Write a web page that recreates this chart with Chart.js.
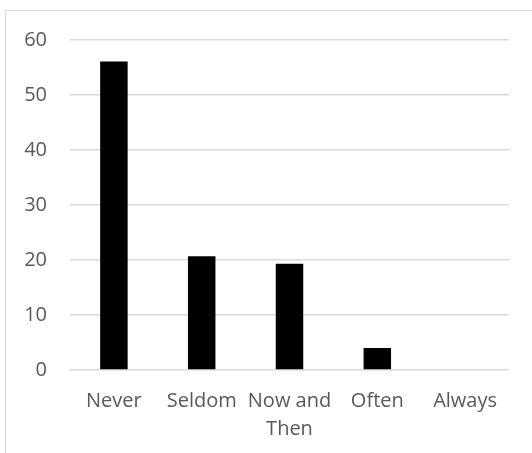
<!DOCTYPE html>
<html>
<head>
<meta charset="utf-8">
<script src="https://cdn.jsdelivr.net/npm/chart.js@4/dist/chart.umd.min.js"></script>
<style>
  html, body { margin: 0; padding: 0; background: #fff; }
  #wrap { position: relative; width: 532px; height: 453px; overflow: hidden; }
  #frame { position: absolute; left: 5px; top: 10px; width: 600px; height: 600px;
           border-left: 1.5px solid #d9d9d9; border-top: 1.5px solid #d9d9d9; box-sizing: border-box; }
  canvas { position: absolute; left: 0; top: 0; }
</style>
</head>
<body>
<div id="wrap">
  <div id="frame"></div>
  <canvas id="c" width="532" height="453"></canvas>
</div>
<script>
const categories = ['Never', 'Seldom', ['Now and', 'Then'], 'Often', 'Always'];
const counts = [56.1, 20.7, 19.3, 4.0, 0];
const yTicks = [0, 10, 20, 30, 40, 50, 60];

const textColor = '#595959';
const font = { family: '"Open Sans", "Noto Sans", sans-serif', size: 20, lineHeight: 1.4 };

new Chart(document.getElementById('c'), {
  type: 'bar',
  data: {
    labels: categories,
    datasets: [{
      data: counts,
      backgroundColor: '#000000',
      borderWidth: 0,
      categoryPercentage: 1,
      barPercentage: 0.313
    }]
  },
  options: {
    responsive: false,
    animation: false,
    devicePixelRatio: 1,
    layout: { padding: { top: 40, right: 23, left: 0, bottom: 0 } },
    plugins: { legend: { display: false }, tooltip: { enabled: false } },
    scales: {
      x: {
        grid: { display: false, drawTicks: false },
        border: { display: false },
        ticks: { color: textColor, font: font, padding: 17, maxRotation: 0, autoSkip: false },
        afterFit(scale) { scale.height = 83; }
      },
      y: {
        min: yTicks[0],
        max: yTicks[yTicks.length - 1],
        afterBuildTicks(scale) { scale.ticks = yTicks.map(v => ({ value: v })); },
        grid: { color: '#d9d9d9', lineWidth: 1.5, drawTicks: false },
        border: { display: false },
        ticks: { color: textColor, font: font, padding: 23 },
        afterFit(scale) { scale.width = 70; }
      }
    }
  }
});
</script>
</body>
</html>
